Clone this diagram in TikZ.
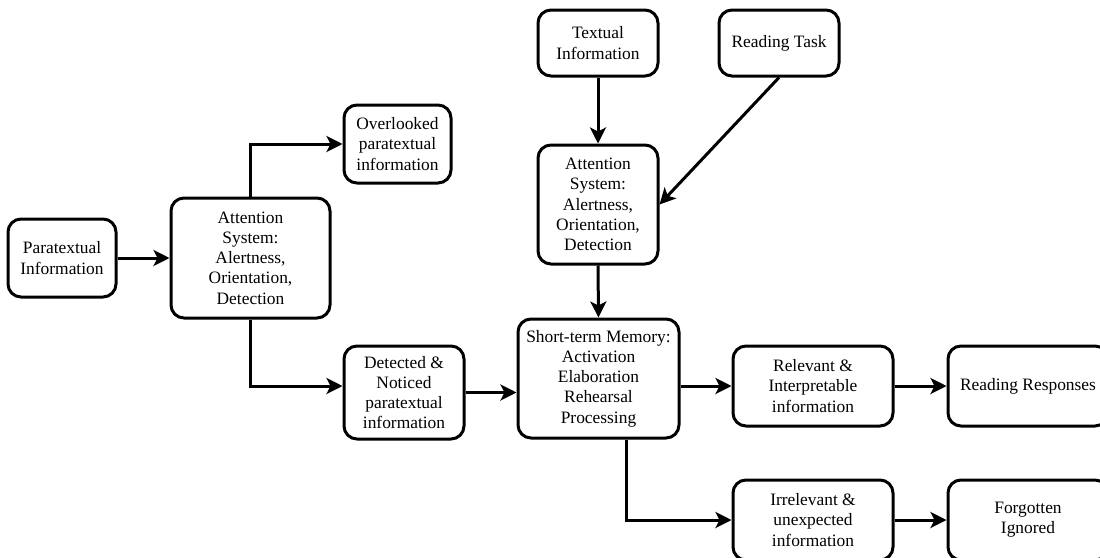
\documentclass[tikz,border=0pt]{standalone}
\usepackage{fontspec}
\setmainfont{Liberation Serif}
\usetikzlibrary{arrows.meta}
\begin{document}
\begin{tikzpicture}[x=1pt,y=-1pt,
  box/.style={draw=black, line width=3pt, rounded corners=13pt, fill=white,
    align=center, inner sep=2pt, text=black,
    font=\fontsize{17.4}{20.2}\selectfont},
  arr/.style={line width=3pt, draw=black,
    -{Stealth[length=16pt,width=16pt,inset=4pt]}}]
\useasboundingbox (0,0) rectangle (1100,557);
\clip (0,0) rectangle (1100,557);
\fill[white] (0,0) rectangle (1100,557);

\node[box, minimum width=108pt, minimum height=78pt] (para) at (62,258) {Paratextual\\Information};
\node[box, minimum width=159pt, minimum height=120pt] (attL) at (250.5,258) {Attention\\System:\\Alertness,\\Orientation,\\Detection};
\node[box, minimum width=107pt, minimum height=78pt] (over) at (397.5,144) {Overlooked\\paratextual\\information};
\node[box, minimum width=120pt, minimum height=93pt] (det) at (404,392.5) {Detected \&\\Noticed\\paratextual\\information};
\node[box, minimum width=120pt, minimum height=66pt] (text) at (598,43) {Textual\\Information};
\node[box, minimum width=120pt, minimum height=66pt] (task) at (779,43) {Reading Task};
\node[box, minimum width=120pt, minimum height=119pt] (attM) at (598,204.5) {Attention\\System:\\Alertness,\\Orientation,\\Detection};
\node[box, minimum width=161pt, minimum height=119pt] (stm) at (598.5,378.5) {Short-term Memory:\\Activation\\Elaboration\\Rehearsal\\Processing};
\node[box, minimum width=160pt, minimum height=80pt] (rel) at (813,386) {Relevant \&\\Interpretable\\information};
\node[box, minimum width=160pt, minimum height=80pt] (rr) at (1028,386) {Reading Responses};
\node[box, minimum width=160pt, minimum height=80pt] (irr) at (813,520) {Irrelevant \&\\unexpected\\information};
\node[box, minimum width=160pt, minimum height=80pt] (forg) at (1028,520) {Forgotten\\Ignored};

\draw[arr] (para.east) -- (attL.west);
\draw[arr] (attL.north) |- (over.west);
\draw[arr] (attL.south) |- ([yshift=6.5pt]det.west);
\draw[arr] (det.east) -- (det.east -| stm.west);
\draw[arr] (text.south) -- (attM.north);
\draw[arr] (task.south) -- (attM.east);
\draw[arr] (attM.south) -- (stm.north);
\draw[arr] (stm.east |- rel.west) -- (rel.west);
\draw[arr] (rel.east) -- (rr.west);
\draw[arr] ([xshift=27.5pt]stm.south) |- (irr.west);
\draw[arr] (irr.east) -- (forg.west);
\end{tikzpicture}
\end{document}
